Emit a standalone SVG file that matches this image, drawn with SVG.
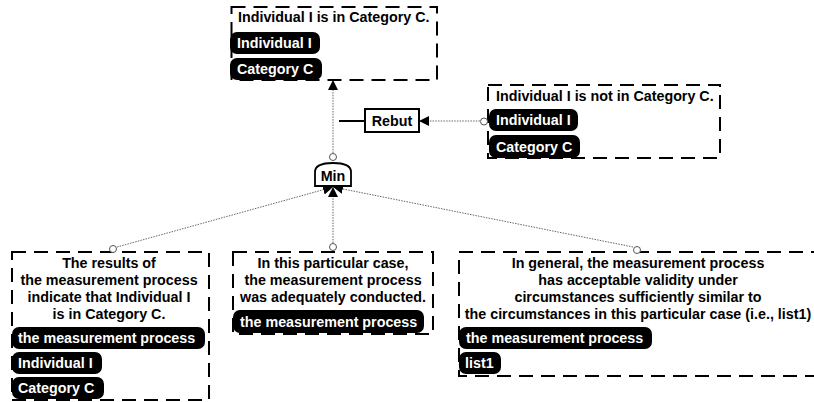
<svg xmlns="http://www.w3.org/2000/svg" width="814" height="402" viewBox="0 0 814 402">
<style>
.box{fill:none;stroke:#000;stroke-width:2;stroke-dasharray:14 8}
.t{font-family:"Liberation Sans",Arial,sans-serif;font-weight:bold;font-size:14.3px;fill:#000}
.c{text-anchor:middle}
.pill{fill:#000}
.pt{font-family:"Liberation Sans",Arial,sans-serif;font-weight:bold;font-size:14.3px;fill:#fff}
.conn{fill:none;stroke:#666;stroke-width:1;stroke-dasharray:1.5 1.2}
.port{fill:#fff;stroke:#555;stroke-width:1}
</style>
<defs>
<marker id="ah" viewBox="0 0 10 10" refX="10" refY="5" markerWidth="10" markerHeight="10" markerUnits="userSpaceOnUse" orient="auto">
<path d="M0,0 L10,5 L0,10 Z" fill="#000"/>
</marker>
</defs>

<g id="connectors">
<line class="conn" x1="333" y1="153" x2="333" y2="80" marker-end="url(#ah)"/>
<line class="conn" x1="480" y1="121" x2="419" y2="121" marker-end="url(#ah)"/>
<line x1="339" y1="121" x2="365" y2="121" stroke="#000" stroke-width="2"/>
<line class="conn" x1="117" y1="247" x2="333" y2="187" marker-end="url(#ah)"/>
<line class="conn" x1="333" y1="243" x2="333" y2="187" marker-end="url(#ah)"/>
<line class="conn" x1="633" y1="247" x2="333" y2="187" marker-end="url(#ah)"/>
</g>

<g id="claim">
<rect class="box" x="231.5" y="7" width="205.5" height="73"/>
<text class="t" x="238" y="22">Individual I is in Category C.</text>
<rect class="pill" x="230" y="32" width="90" height="22" rx="7"/>
<text class="pt" x="237" y="48">Individual I</text>
<rect class="pill" x="230" y="58" width="92" height="22" rx="7"/>
<text class="pt" x="237" y="74">Category C</text>
</g>

<g id="rebut">
<rect x="365" y="109" width="54" height="23" fill="#fff" stroke="#000" stroke-width="2"/>
<text class="t c" x="392" y="126">Rebut</text>
</g>

<g id="counter">
<rect class="box" x="488" y="85" width="232" height="73"/>
<text class="t" x="496" y="100.5">Individual I is not in Category C.</text>
<rect class="pill" x="489" y="109" width="89" height="22" rx="7"/>
<text class="pt" x="496" y="125">Individual I</text>
<rect class="pill" x="489" y="135" width="91" height="23" rx="7"/>
<text class="pt" x="496" y="151.5">Category C</text>
<circle class="port" cx="484" cy="121.5" r="3.5"/>
</g>

<g id="min">
<path d="M315,186 L315,172 Q315,163 333,163 Q351,163 351,172 L351,186 Z" fill="#fff" stroke="#000" stroke-width="1.8"/>
<text class="t c" x="333" y="181">Min</text>
<circle class="port" cx="333" cy="157" r="3.5"/>
</g>

<g id="premise1">
<rect class="box" x="12" y="252" width="197" height="148"/>
<text class="t c" x="109" y="268">The results of</text>
<text class="t c" x="109" y="285">the measurement process</text>
<text class="t c" x="109" y="302">indicate that Individual I</text>
<text class="t c" x="109" y="319">is in Category C.</text>
<rect class="pill" x="12" y="327" width="193" height="22" rx="7"/>
<text class="pt" x="18" y="343">the measurement process</text>
<rect class="pill" x="12" y="352" width="90" height="22" rx="7"/>
<text class="pt" x="18" y="368">Individual I</text>
<rect class="pill" x="12" y="377" width="92" height="22" rx="7"/>
<text class="pt" x="18" y="393">Category C</text>
<circle class="port" cx="113" cy="249" r="3.5"/>
</g>

<g id="premise2">
<rect class="box" x="233" y="252" width="200" height="82"/>
<text class="t c" x="333" y="268">In this particular case,</text>
<text class="t c" x="333" y="285">the measurement process</text>
<text class="t c" x="333" y="302">was adequately conducted.</text>
<rect class="pill" x="233" y="310" width="191" height="23" rx="7"/>
<text class="pt" x="240" y="326.5">the measurement process</text>
<circle class="port" cx="333" cy="247" r="3.5"/>
</g>

<g id="premise3">
<rect class="box" x="459" y="252" width="360" height="124"/>
<text class="t c" x="638" y="268">In general, the measurement process</text>
<text class="t c" x="638" y="285">has acceptable validity under</text>
<text class="t c" x="638" y="302">circumstances sufficiently similar to</text>
<text class="t c" x="638" y="319">the circumstances in this particular case (i.e., list1)</text>
<rect class="pill" x="459" y="327" width="193" height="22" rx="7"/>
<text class="pt" x="466" y="343">the measurement process</text>
<rect class="pill" x="459" y="352" width="42" height="22" rx="7"/>
<text class="pt" x="465" y="368">list1</text>
<circle class="port" cx="637" cy="250" r="3.5"/>
</g>
</svg>
